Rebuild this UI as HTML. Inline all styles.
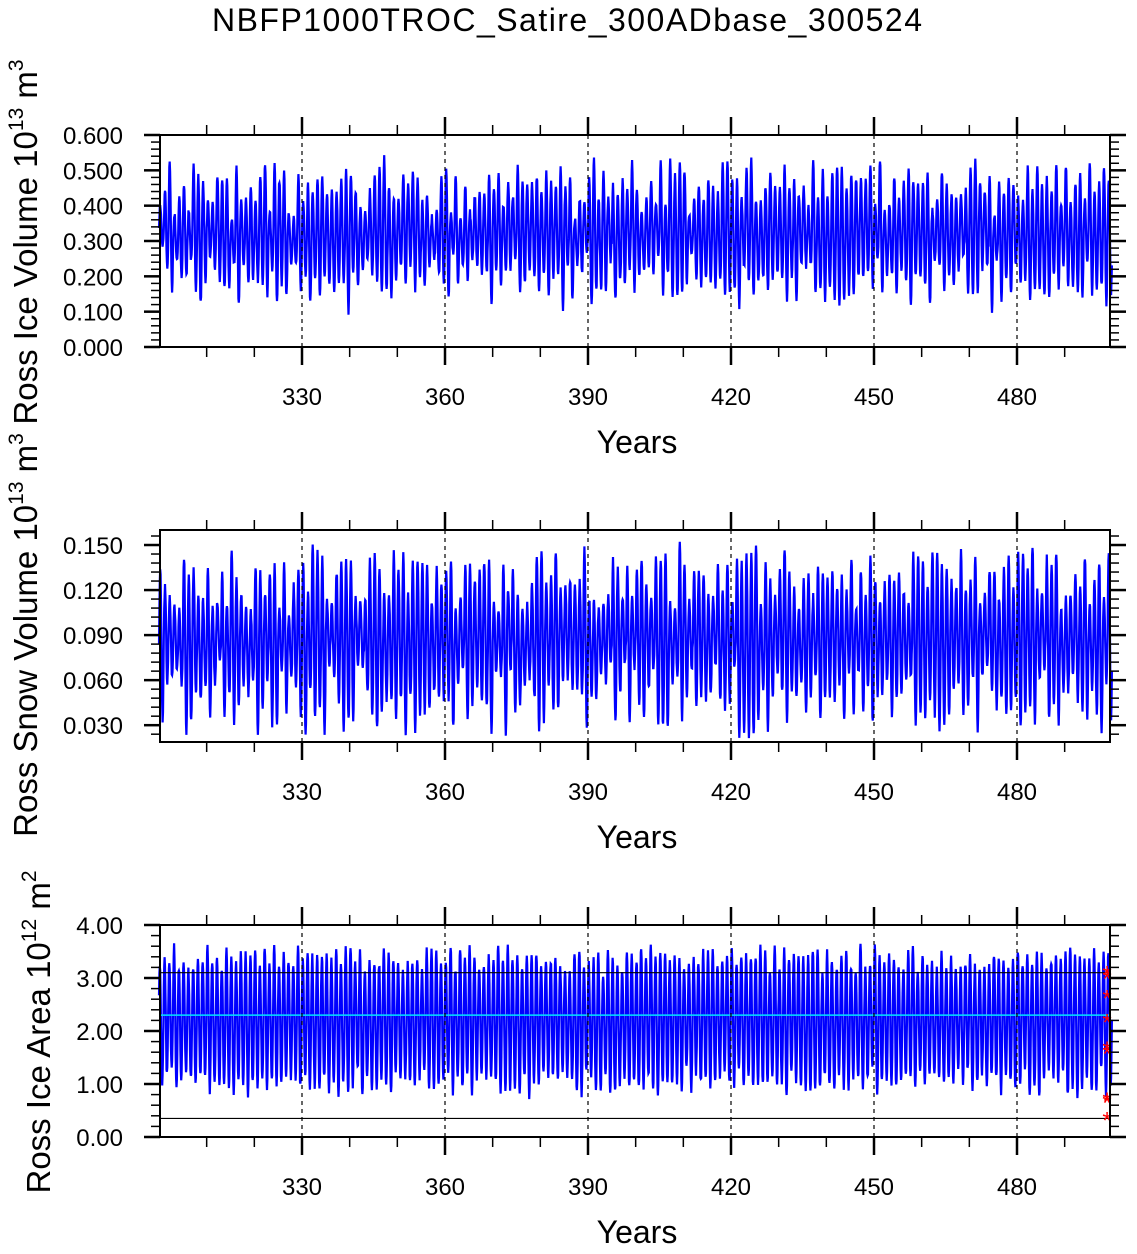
<!DOCTYPE html>
<html><head><meta charset="utf-8"><style>
body{margin:0;background:#fff}
svg text{font-family:"Liberation Sans",Arial,sans-serif;fill:#000}
</style></head><body>
<svg id="s" width="1137" height="1249" xmlns="http://www.w3.org/2000/svg">
<text x="567" y="31" font-size="32" text-anchor="middle" textLength="710">NBFP1000TROC_Satire_300ADbase_300524</text>
</svg>
<script>
var S=document.getElementById('s'),NS='http://www.w3.org/2000/svg';
function el(t,a,txt){var e=document.createElementNS(NS,t);for(var k in a)e.setAttribute(k,a[k]);if(txt!==undefined)e.textContent=txt;S.appendChild(e);return e;}
var seed=7;function rnd(){seed=(seed*16807)%2147483647;return seed/2147483647;}
var X0=160,X1=1110;function xp(y){return 302+(y-330)*143/30;}
function panel(top,bot,vmin,vmax,maj,minr,fmt,ytitle,sup,unitsup,tcx,tcy,tlen,gen,extra){
 function yp(v){return bot-(v-vmin)/(vmax-vmin)*(bot-top);}
 var pts=[];
 for(var yr=0;yr<200;yr++){var a=gen.amp(),m=gen.mean();
  for(var mo=0;mo<12;mo++){var t=300+yr+mo/12;var v=m+a*Math.cos(2*Math.PI*(mo-gen.ph)/12)+(rnd()-0.5)*gen.noise;
  if(v<vmin)v=vmin;pts.push(xp(t).toFixed(1)+','+yp(v).toFixed(1));}}
 el('polyline',{points:pts.join(' '),fill:'none',stroke:'#0000ff','stroke-width':2.2});
 if(extra)extra(yp);
 for(var y=330;y<=480;y+=30)el('line',{x1:xp(y),x2:xp(y),y1:top,y2:bot,stroke:'#000','stroke-width':1.2,'stroke-dasharray':'4,4'});
 el('rect',{x:X0,y:top,width:X1-X0,height:bot-top,fill:'none',stroke:'#000','stroke-width':2});
 for(var y=310;y<=490;y+=10){var M=(y-330)%30==0;var L=M?18:10,x=xp(y);
  el('line',{x1:x,x2:x,y1:top,y2:top-L,stroke:'#000','stroke-width':M?2.5:1.5});
  el('line',{x1:x,x2:x,y1:bot,y2:bot+L,stroke:'#000','stroke-width':M?2.5:1.5});
  if(M)el('text',{x:x,y:bot+58,'font-size':24,'text-anchor':'middle'},String(y));}
 var r=Math.round(maj/minr);
 for(var k=Math.ceil(vmin/minr-1e-6);k*minr<=vmax+1e-9;k++){var v=k*minr;var M=(k%r)==0;var yy=yp(v);
  var L=M?16:9;
  el('line',{x1:X0,x2:X0-L,y1:yy,y2:yy,stroke:'#000','stroke-width':M?2.5:1.5});
  el('line',{x1:X1,x2:X1+L,y1:yy,y2:yy,stroke:'#000','stroke-width':M?2.5:1.5});
  if(M)el('text',{x:123,y:yy+9,'font-size':24,'text-anchor':'end'},fmt(v));}
 el('text',{x:637,y:bot+106,'font-size':32,'text-anchor':'middle'},'Years');
 var t=el('text',{x:0,y:0,'font-size':33,'text-anchor':'middle',transform:'translate('+tcx+','+tcy+') rotate(-90)'});
 t.innerHTML=ytitle+' 10<tspan dy="-14" font-size="21">'+sup+'</tspan><tspan dy="14"> m</tspan><tspan dy="-14" font-size="21">'+unitsup+'</tspan>';
}
function f3(v){return v.toFixed(3);}function f2(v){return v.toFixed(2);}
panel(135,347,0,0.6,0.1,0.02,f3,'Ross Ice Volume','13','3',37,242,0,
 {amp:function(){return 0.06+rnd()*0.14},mean:function(){return 0.32+(rnd()-0.5)*0.05},ph:3,noise:0.02});
panel(530,742,0.0188,0.16,0.03,0.006,f3,'Ross Snow Volume','13','3',37,635,0,
 {amp:function(){return 0.02+rnd()*0.04},mean:function(){return 0.087+(rnd()-0.5)*0.012},ph:3,noise:0.006});
panel(925,1137,0,4,1,0.2,f2,'Ross Ice Area','12','2',50,1032,0,
 {amp:function(){return 0.95+rnd()*0.45},mean:function(){return 2.2+(rnd()-0.5)*0.2},ph:2,noise:0.15},
 function(yp){
  el('line',{x1:X0,x2:X1,y1:yp(3.1),y2:yp(3.1),stroke:'#000','stroke-width':1.2});
  el('line',{x1:X0,x2:X1,y1:yp(0.35),y2:yp(0.35),stroke:'#000','stroke-width':1.2});
  el('line',{x1:X0,x2:X1,y1:yp(2.3),y2:yp(2.3),stroke:'#00e5ff','stroke-width':1.5});
  [3.1,3.02,2.65,2.2,1.68,1.6,0.72,0.68,0.35].forEach(function(v){
   el('text',{x:1107,y:yp(v)+10,'font-size':24,'text-anchor':'middle',style:'fill:#ff0000'},'*');});
 });
</script>
</body></html>
